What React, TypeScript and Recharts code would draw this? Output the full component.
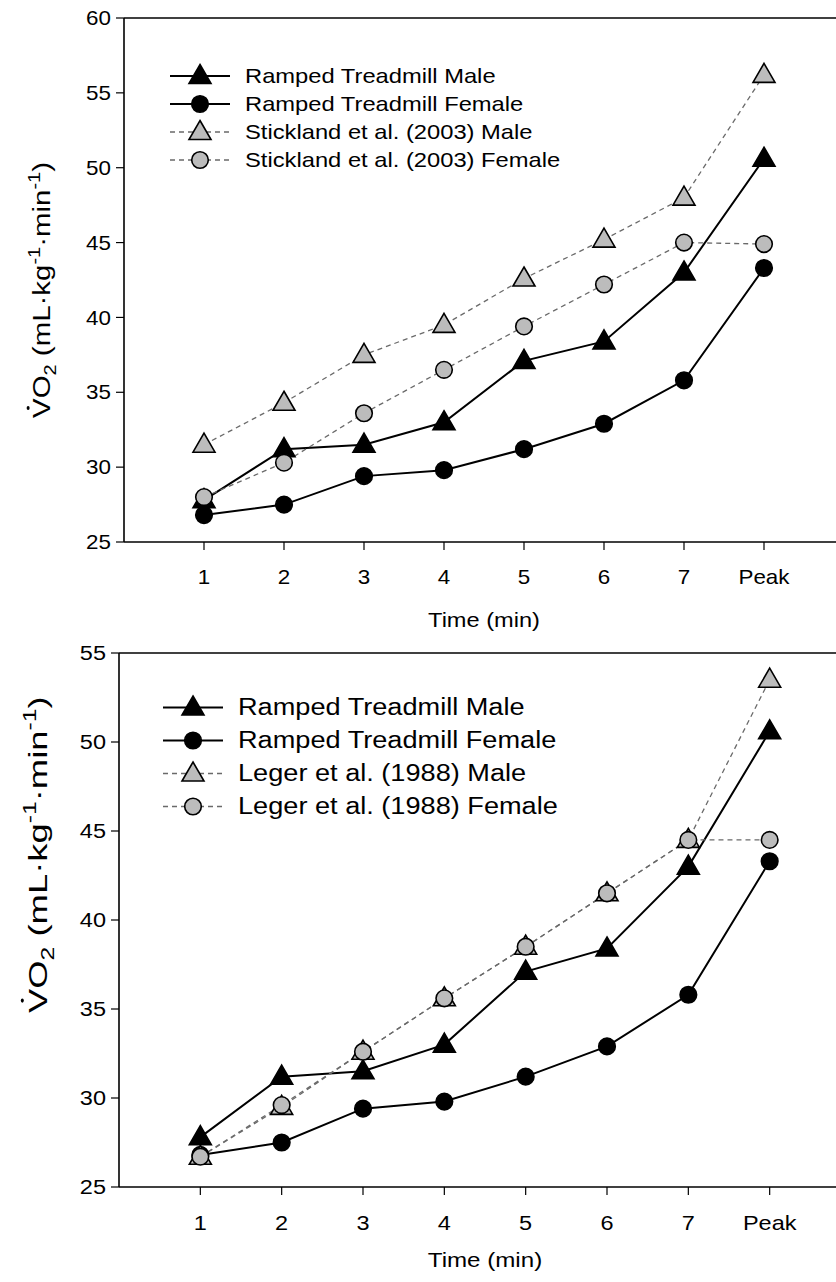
import React from 'react';
import { LineChart, Line, XAxis, YAxis, ReferenceLine, Legend } from 'recharts';

// x categories (time in min, last one is peak)
const categories = ['1', '2', '3', '4', '5', '6', '7', 'Peak'];
const positions = [1, 2, 3, 4, 5, 6, 7, 8];

const rampedMale = [27.8, 31.2, 31.5, 33.0, 37.1, 38.4, 43.0, 50.6];
const rampedFemale = [26.8, 27.5, 29.4, 29.8, 31.2, 32.9, 35.8, 43.3];
const sticklandMale = [31.5, 34.3, 37.5, 39.5, 42.6, 45.2, 48.0, 56.2];
const sticklandFemale = [28.0, 30.3, 33.6, 36.5, 39.4, 42.2, 45.0, 44.9];
const legerMale = [26.7, 29.5, 32.6, 35.6, 38.5, 41.5, 44.5, 53.5];
const legerFemale = [26.7, 29.6, 32.6, 35.6, 38.5, 41.5, 44.5, 44.5];

const topYTicks = [25, 30, 35, 40, 45, 50, 55, 60];
const bottomYTicks = [25, 30, 35, 40, 45, 50, 55];

const FONT = '"Liberation Sans", Arial, sans-serif';
const GREY_FILL = '#bcbcbc';
const DASH_COLOR = '#6a6a6a';

type Marker = 'triangle' | 'circle';

interface SeriesDef {
  key: string;
  name: string;
  marker: Marker;
  filled: boolean;
  dashed: boolean;
}

const drawMarker = (marker: Marker, filled: boolean, cx: number, cy: number, key?: string | number) => {
  const fill = filled ? '#000' : GREY_FILL;
  if (marker === 'triangle') {
    const d = `M${cx},${cy - 11.5} L${cx + 11},${cy + 7.5} L${cx - 11},${cy + 7.5} Z`;
    return <path key={key} d={d} fill={fill} stroke="#000" strokeWidth={1.6} />;
  }
  return <circle key={key} cx={cx} cy={cy} r={8.3} fill={fill} stroke="#000" strokeWidth={1.6} />;
};

const buildRows = (a: number[], b: number[], c: number[], d: number[]) =>
  categories.map((cat, i) => ({
    pos: positions[i],
    cat,
    rm: a[i],
    rf: b[i],
    om: c[i],
    of: d[i],
  }));

// the original lettering is wider than Arial, so text gets stretched along its reading direction
const VO2Label = ({ x, y, size, stretch }: { x: number; y: number; size: number; stretch: number }) => {
  const small = size * 0.68;
  const sub = size * 0.28;
  const sup = size * 0.42;
  return (
    <g transform={`translate(${x},${y}) rotate(-90) scale(${stretch},1)`}>
      <text x={0} y={0} fontSize={size} fontFamily={FONT} fill="#000">
        <tspan>VO</tspan>
        <tspan fontSize={small} dy={sub}>2</tspan>
        <tspan dy={-sub}> (mL·kg</tspan>
        <tspan fontSize={small} dy={-sup}>-1</tspan>
        <tspan dy={sup}>·min</tspan>
        <tspan fontSize={small} dy={-sup}>-1</tspan>
        <tspan dy={sup}>)</tspan>
      </text>
      <circle cx={size * 0.34} cy={-size * 0.95} r={1.5} fill="#000" />
    </g>
  );
};

const makeTick = (size: number, stretch: number, axis: 'x' | 'y') => (props: any) => {
  const { x, y, payload } = props;
  const text = axis === 'x' ? categories[payload.value - 1] : String(payload.value);
  return (
    <g transform={`translate(${x},${y}) scale(${stretch},1)`}>
      <text
        x={0}
        y={0}
        dy={axis === 'x' ? '0.71em' : '0.355em'}
        textAnchor={axis === 'x' ? 'middle' : 'end'}
        fontSize={size}
        fontFamily={FONT}
        fill="#000"
      >
        {text}
      </text>
    </g>
  );
};

interface PanelProps {
  width: number;
  height: number;
  plotWidth: number;
  yAxisWidth: number;
  marginTop: number;
  xAxisHeight: number;
  yDomain: [number, number];
  yTicks: number[];
  otherMale: number[];
  otherFemale: number[];
  otherName: string;
  fontSize: number;
  stretch: number;
  legendFont: number;
  legendStretch: number;
  legendLeft: number;
  legendTop: number;
  legendRow: number;
  labelX: number;
  labelY: number;
  labelSize: number;
  labelStretch: number;
  timeY: number;
  timeStretch: number;
}

const Panel = (p: PanelProps) => {
  const data = buildRows(rampedMale, rampedFemale, p.otherMale, p.otherFemale);
  const series: SeriesDef[] = [
    { key: 'rm', name: 'Ramped Treadmill Male', marker: 'triangle', filled: true, dashed: false },
    { key: 'rf', name: 'Ramped Treadmill Female', marker: 'circle', filled: true, dashed: false },
    { key: 'om', name: `${p.otherName} Male`, marker: 'triangle', filled: false, dashed: true },
    { key: 'of', name: `${p.otherName} Female`, marker: 'circle', filled: false, dashed: true },
  ];

  const renderLegend = () => (
    <div style={{ fontFamily: FONT, fontSize: p.legendFont, color: '#000' }}>
      {series.map((s) => (
        <div key={s.key} style={{ display: 'flex', alignItems: 'center', height: p.legendRow }}>
          <svg width={62} height={p.legendRow} style={{ display: 'block' }}>
            <line
              x1={0}
              x2={60}
              y1={p.legendRow / 2}
              y2={p.legendRow / 2}
              stroke={s.dashed ? DASH_COLOR : '#000'}
              strokeWidth={s.dashed ? 1.3 : 2}
              strokeDasharray={s.dashed ? '5 4' : undefined}
            />
            {drawMarker(s.marker, s.filled, 30, p.legendRow / 2)}
          </svg>
          <span
            style={{
              marginLeft: 13,
              whiteSpace: 'nowrap',
              display: 'inline-block',
              transform: `scaleX(${p.legendStretch})`,
              transformOrigin: 'left center',
            }}
          >
            {s.name}
          </span>
        </div>
      ))}
    </div>
  );

  const timeLabel = (lp: any) => {
    const vb = lp.viewBox || { x: p.yAxisWidth, width: p.plotWidth };
    const cx = vb.x + vb.width / 2;
    return (
      <g transform={`translate(${cx},${p.timeY}) scale(${p.timeStretch},1)`}>
        <text x={0} y={0} dy="0.355em" textAnchor="middle" fontSize={p.fontSize} fontFamily={FONT} fill="#000">
          Time (min)
        </text>
      </g>
    );
  };

  return (
    <LineChart
      width={p.width}
      height={p.height}
      data={data}
      margin={{ top: p.marginTop, right: p.width - p.yAxisWidth - p.plotWidth, left: 0, bottom: 0 }}
    >
      <XAxis
        dataKey="pos"
        type="number"
        domain={[0, 9]}
        ticks={positions}
        height={p.xAxisHeight}
        tickSize={8}
        tickMargin={20}
        axisLine={{ stroke: '#000', strokeWidth: 1.6 }}
        tickLine={{ stroke: '#000', strokeWidth: 1.2 }}
        tick={makeTick(p.fontSize, p.stretch, 'x')}
        label={{ content: timeLabel }}
      />
      <YAxis
        type="number"
        domain={p.yDomain}
        ticks={p.yTicks}
        width={p.yAxisWidth}
        tickSize={8}
        tickMargin={5}
        axisLine={{ stroke: '#000', strokeWidth: 1.6 }}
        tickLine={{ stroke: '#000', strokeWidth: 1.2 }}
        tick={makeTick(p.fontSize, p.stretch, 'y')}
        label={{
          content: () => <VO2Label x={p.labelX} y={p.labelY} size={p.labelSize} stretch={p.labelStretch} />,
        }}
      />
      <ReferenceLine y={p.yDomain[1]} stroke="#000" strokeWidth={1.6} />
      <Legend
        layout="vertical"
        align="center"
        verticalAlign="middle"
        content={renderLegend}
        wrapperStyle={{ left: p.legendLeft, top: p.legendTop, width: 'auto', height: 'auto' }}
      />
      {series.map((s) => (
        <Line
          key={s.key}
          dataKey={s.key}
          name={s.name}
          type="linear"
          stroke={s.dashed ? DASH_COLOR : '#000'}
          strokeWidth={s.dashed ? 1.3 : 2}
          strokeDasharray={s.dashed ? '5 4' : undefined}
          isAnimationActive={false}
          dot={(d: any) => drawMarker(s.marker, s.filled, d.cx, d.cy, `${s.key}-${d.index}`)}
          activeDot={false}
        />
      ))}
    </LineChart>
  );
};

export default function App() {
  return (
    <div
      style={{
        position: 'absolute',
        left: 0,
        top: 0,
        width: 836,
        height: 1282,
        overflow: 'hidden',
        background: '#fff',
      }}
    >
      <div style={{ position: 'absolute', left: 0, top: 0 }}>
        <Panel
          width={900}
          height={640}
          plotWidth={720}
          yAxisWidth={124}
          marginTop={18}
          xAxisHeight={98}
          yDomain={[25, 60]}
          yTicks={topYTicks}
          otherMale={sticklandMale}
          otherFemale={sticklandFemale}
          otherName="Stickland et al. (2003)"
          fontSize={20}
          stretch={1.12}
          legendFont={21}
          legendStretch={1.13}
          legendLeft={170}
          legendTop={62}
          legendRow={28}
          labelX={50}
          labelY={418}
          labelSize={23}
          labelStretch={1.28}
          timeY={620}
          timeStretch={1.18}
        />
      </div>
      <div style={{ position: 'absolute', left: 0, top: 640 }}>
        <Panel
          width={900}
          height={642}
          plotWidth={732}
          yAxisWidth={119}
          marginTop={13}
          xAxisHeight={95}
          yDomain={[25, 55]}
          yTicks={bottomYTicks}
          otherMale={legerMale}
          otherFemale={legerFemale}
          otherName="Leger et al. (1988)"
          fontSize={21}
          stretch={1.12}
          legendFont={23}
          legendStretch={1.18}
          legendLeft={163}
          legendTop={51}
          legendRow={33}
          labelX={47}
          labelY={373}
          labelSize={26}
          labelStretch={1.4}
          timeY={620}
          timeStretch={1.15}
        />
      </div>
    </div>
  );
}
